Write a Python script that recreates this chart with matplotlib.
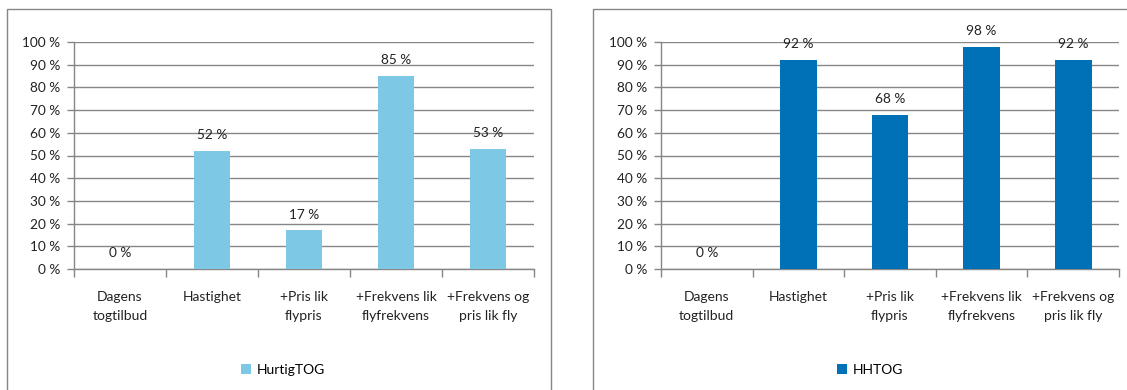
import matplotlib
matplotlib.use("Agg")
import matplotlib.pyplot as plt
from matplotlib.patches import Rectangle, Patch

plt.rcParams['font.family'] = ['Lato', 'DejaVu Sans']

categories = ["Dagens\ntogtilbud", "Hastighet", "+Pris lik\nflypris",
              "+Frekvens lik\nflyfrekvens", "+Frekvens og\npris lik fly"]
hurtig_values = [0, 52, 17, 85, 53]
hhtog_values = [0, 92, 68, 98, 92]
series_names = ["HurtigTOG", "HHTOG"]
yticks = [0, 10, 20, 30, 40, 50, 60, 70, 80, 90, 100]

W, H = 1127, 390
fig = plt.figure(figsize=(W / 100, H / 100), dpi=100)

grid_col = "#868686"


def px(x0, y0, x1, y1):
    # pixel box (top-left origin) -> figure fraction rect
    return [x0 / W, 1 - y1 / H, (x1 - x0) / W, (y1 - y0) / H]


def panel(rect, values, name, color, border, legend_x):
    # outer chart border
    bx0, by0, bx1, by1 = border
    fig.patches.append(Rectangle((bx0 / W, 1 - by1 / H), (bx1 - bx0) / W, (by1 - by0) / H,
                                 transform=fig.transFigure, fill=False,
                                 edgecolor=grid_col, lw=1.0, clip_on=False))
    ax = fig.add_axes(px(*rect))
    xs = list(range(len(values)))
    ax.bar(xs, values, width=0.4, color=color, zorder=3)
    for x, v in zip(xs, values):
        ax.annotate(f"{v} %", (x, v), xytext=(0, 7), textcoords="offset points",
                    ha="center", va="bottom", fontsize=9.8, color="#222222")
    ax.set_xlim(-0.5, len(values) - 0.5)
    ax.set_ylim(0, 100)
    ax.set_yticks(yticks)
    ax.set_yticklabels([f"{t} %" for t in yticks])
    ax.yaxis.grid(True, color=grid_col, lw=1.0, zorder=0)
    ax.set_xticks(xs)
    ax.set_xticklabels(categories, linespacing=1.7)
    ax.set_xticks([x - 0.5 for x in xs] + [len(xs) - 0.5], minor=True)
    ax.tick_params(axis="x", which="major", length=0, pad=16, labelsize=10, labelcolor="#222222")
    ax.tick_params(axis="x", which="minor", length=6, color=grid_col, width=1.0)
    ax.tick_params(axis="y", length=5, color=grid_col, width=1.0, pad=5,
                   labelsize=9.8, labelcolor="#222222")
    for s in ["top", "right"]:
        ax.spines[s].set_visible(False)
    for s in ["left", "bottom"]:
        ax.spines[s].set_color(grid_col)
        ax.spines[s].set_linewidth(1.0)
    fig.legend(handles=[Patch(facecolor=color, label=name)],
               loc="center", bbox_to_anchor=(legend_x / W, 1 - 370 / H),
               frameon=False, fontsize=10, handlelength=0.75, handleheight=0.75,
               handletextpad=0.4)
    return ax


panel((74, 42, 534, 269), hurtig_values, series_names[0], "#7dc8e5",
      (7, 9, 551, 400), 283)
panel((661, 42, 1119, 269), hhtog_values, series_names[1], "#0071b6",
      (593, 9, 1140, 400), 870)

fig.savefig("out.png", dpi=100)
